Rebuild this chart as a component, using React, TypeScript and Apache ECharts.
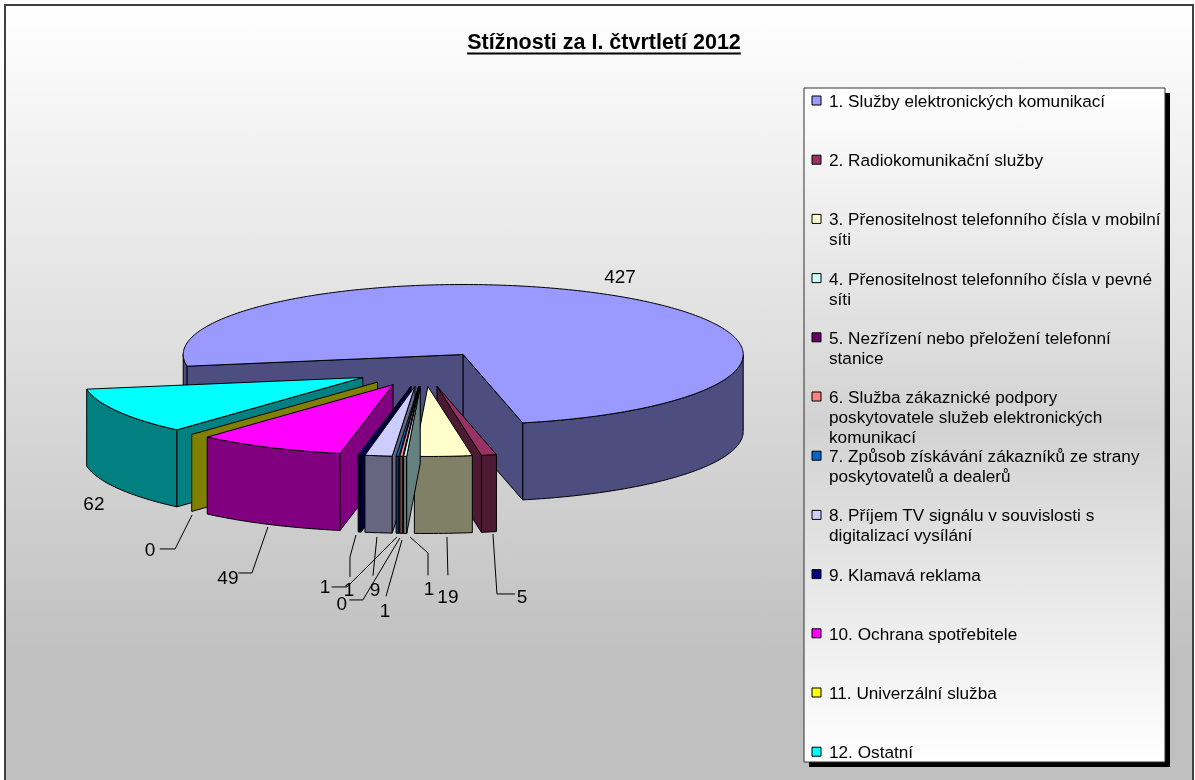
import React, { useEffect, useRef } from "react";
import * as echarts from "echarts";

// ---------- data ----------
const chartTitle = "Stížnosti za I. čtvrtletí 2012";
const categories = [
  "1. Služby elektronických komunikací",
  "2. Radiokomunikační služby",
  "3. Přenositelnost telefonního čísla v mobilní síti",
  "4. Přenositelnost telefonního čísla v pevné síti",
  "5. Nezřízení nebo přeložení telefonní stanice",
  "6. Služba zákaznické podpory poskytovatele služeb elektronických komunikací",
  "7. Způsob získávání zákazníků ze strany poskytovatelů a dealerů",
  "8. Příjem TV signálu v souvislosti s digitalizací vysílání",
  "9. Klamavá reklama",
  "10. Ochrana spotřebitele",
  "11. Univerzální služba",
  "12. Ostatní",
];
const complaints = [427, 5, 19, 1, 0, 1, 1, 9, 1, 49, 0, 62];
const sliceColors = [
  "#9999FF", "#993366", "#FFFFCC", "#CCFFFF", "#660066", "#FF8080",
  "#0066CC", "#CCCCFF", "#000080", "#FF00FF", "#FFFF00", "#00FFFF",
];

// ---------- layout (not data) ----------
const GEO = { cx: 424, cy: 369, rx: 280, ry: 70, depth: 77, explode: 0.25, startAngle: 170.4 };
// word indices after which a legend entry wraps
const legendWraps: number[][] = [[], [], [6], [6], [5], [4, 7], [6], [7], [], [], [], []];
// label text offset + leader points, relative to slice's front-bottom rim point (slice 1: top rim)
const labelLayout: { dx: number; dy: number; line: number[][] }[] = [
  { dx: 0, dy: -20, line: [] },
  { dx: 33, dy: 65, line: [[4, 2], [8, 62], [26, 62]] },
  { dx: 4.5, dy: 63.6, line: [[3.5, 3.6], [4.5, 42]] },
  { dx: 23.8, dy: 55.6, line: [[4.8, 3.6], [22.8, 19.6], [22.8, 42]] },
  { dx: -61.4, dy: 70.6, line: [[-3.4, 4.6], [-40.4, 66.6], [-54, 66.6]] },
  { dx: -16.4, dy: 76.7, line: [[0.6, 6.7], [-15.4, 63]] },
  { dx: -72.6, dy: 53.7, line: [[-0.6, 3.7], [-50.6, 53.7], [-66, 53.7]] },
  { dx: -3.6, dy: 57.2, line: [[-1.6, 4.2], [-5.6, 43]] },
  { dx: -10.7, dy: 57, line: [[-3.7, 3], [-9.7, 25], [-9.7, 45]] },
  { dx: -41.3, dy: 53.5, line: [[-1.3, 2.5], [-17.3, 48.5], [-31, 48.5]] },
  { dx: -41.6, dy: 38.5, line: [[0.4, 3.5], [-16.6, 37.5], [-32, 37.5]] },
  { dx: -24, dy: 14.6, line: [] },
];

const FONT = "Arial, 'Liberation Sans', sans-serif";
const rad = (d: number) => (d * Math.PI) / 180;

function shade(hex: string, f = 0.5) {
  const n = parseInt(hex.slice(1), 16);
  const r = Math.round(((n >> 16) & 255) * f);
  const g = Math.round(((n >> 8) & 255) * f);
  const b = Math.round((n & 255) * f);
  return `rgb(${r},${g},${b})`;
}

function wrapName(name: string, breaks: number[]) {
  const words = name.split(" ");
  return words.map((w, k) => (k === 0 ? w : (breaks.includes(k) ? "\n" : " ") + w)).join("");
}

const total = complaints.reduce((a, b) => a + b, 0);
const spans: number[][] = [];
{
  let acc = GEO.startAngle;
  complaints.forEach((v) => {
    const s = acc;
    acc += (v / total) * 360;
    spans.push([s, acc]);
  });
}
const drawOrder = complaints
  .map((_, i) => i)
  .sort((a, b) => Math.sin(rad((spans[a][0] + spans[a][1]) / 2)) - Math.sin(rad((spans[b][0] + spans[b][1]) / 2)));

function sliceCenter(m: number) {
  return [GEO.cx + GEO.explode * GEO.rx * Math.cos(rad(m)), GEO.cy + GEO.explode * GEO.ry * Math.sin(rad(m))];
}
function rim(c: number[], ang: number, dy = 0) {
  return [c[0] + GEO.rx * Math.cos(rad(ang)), c[1] + GEO.ry * Math.sin(rad(ang)) + dy];
}
function arc(c: number[], a0: number, a1: number, dy = 0) {
  const n = Math.max(1, Math.ceil(Math.abs(a1 - a0)));
  const pts: number[][] = [];
  for (let k = 0; k <= n; k++) pts.push(rim(c, a0 + ((a1 - a0) * k) / n, dy));
  return pts;
}

function renderItem(params: any, api: any) {
  const i = params.dataIndex;
  const value = api.value(1);
  const [s, e] = spans[i];
  const m = (s + e) / 2;
  const c = sliceCenter(m);
  const rank = drawOrder.indexOf(i);
  const base = rank * 10;
  const top = sliceColors[i];
  const side = shade(top);
  const sty = (fill: string) => ({ fill, stroke: "#000", lineWidth: 1, lineJoin: "round" });
  const children: any[] = [];
  const D = GEO.depth;

  for (let k = -1; k <= 2; k++) {
    const lo = Math.max(s, k * 360);
    const hi = Math.min(e, k * 360 + 180);
    if (hi - lo > 0.01) {
      const pts = [...arc(c, lo, hi, 0), ...arc(c, lo, hi, D).reverse()];
      children.push({ type: "polygon", shape: { points: pts }, style: sty(side), z2: base + 1 });
    }
  }
  const radial = (ang: number) => ({
    type: "polygon",
    shape: { points: [c, rim(c, ang, 0), rim(c, ang, D), [c[0], c[1] + D]] },
    style: sty(side),
    z2: base + 2,
  });
  if (Math.cos(rad(s)) < 0) children.push(radial(s));
  if (Math.cos(rad(e)) > 0) children.push(radial(e));
  if (e - s > 0.01) {
    children.push({
      type: "polygon",
      shape: { points: [c, ...arc(c, s, e, 0)] },
      style: sty(top),
      z2: base + 3,
    });
  }

  const L = labelLayout[i];
  const anchor = i === 0 ? rim(c, m, 0) : rim(c, m, D);
  if (L.line.length) {
    children.push({
      type: "polyline",
      shape: { points: L.line.map((p) => [anchor[0] + p[0], anchor[1] + p[1]]) },
      style: { stroke: "#000", lineWidth: 1, fill: null },
      z2: 1000,
    });
  }
  children.push({
    type: "text",
    style: {
      text: String(value),
      x: anchor[0] + L.dx,
      y: anchor[1] + L.dy,
      align: "center",
      verticalAlign: "middle",
      font: `19px ${FONT}`,
      fill: "#000",
    },
    z2: 1001,
  });
  return { type: "group", children };
}

export default function App() {
  const ref = useRef<HTMLDivElement>(null);
  useEffect(() => {
    if (!ref.current) return;
    const chart = echarts.init(ref.current, undefined, { renderer: "svg" });

    const titleFont = `bold 21.5px ${FONT}`;
    let titleW = 272;
    try {
      const ctx = document.createElement("canvas").getContext("2d");
      if (ctx) {
        ctx.font = titleFont;
        titleW = ctx.measureText(chartTitle).width;
      }
    } catch (err) {}
    const titleX = 604;
    const titleY = 42;

    const legendX = 804, legendY = 88, legendW = 361, legendH = 674;
    const itemTop = 101, itemStep = 59.2;

    const elements: any[] = [
      {
        type: "rect",
        shape: { x: 5, y: 5, width: 1188, height: 800 },
        style: {
          fill: new echarts.graphic.LinearGradient(0, 0, 0, 1, [
            { offset: 0, color: "#ffffff" },
            { offset: 0.82, color: "#c0c0c0" },
            { offset: 1, color: "#c0c0c0" },
          ]),
          stroke: "#404040",
          lineWidth: 2,
        },
        z: -10,
        silent: true,
      },
      {
        type: "text",
        style: { text: chartTitle, x: titleX, y: titleY, align: "center", verticalAlign: "middle", font: titleFont, fill: "#000" },
        z: 5,
      },
      {
        type: "line",
        shape: { x1: titleX - titleW / 2, y1: titleY + 11.5, x2: titleX + titleW / 2, y2: titleY + 11.5 },
        style: { stroke: "#000", lineWidth: 2 },
        z: 5,
      },
      {
        type: "rect",
        shape: { x: legendX + 5, y: legendY + 5, width: legendW, height: legendH },
        style: { fill: "#000" },
        z: 5,
      },
      {
        type: "rect",
        shape: { x: legendX, y: legendY, width: legendW, height: legendH },
        style: {
          fill: new echarts.graphic.LinearGradient(0, 0, 0, 1, [
            { offset: 0, color: "#ffffff" },
            { offset: 0.5, color: "#d2d2d2" },
            { offset: 1, color: "#ffffff" },
          ]),
          stroke: "#303030",
          lineWidth: 1,
        },
        z: 6,
      },
    ];
    categories.forEach((name, i) => {
      const y = itemTop + itemStep * i;
      elements.push({
        type: "rect",
        shape: { x: 812, y: y - 5, width: 9, height: 9 },
        style: { fill: sliceColors[i], stroke: "#000", lineWidth: 1 },
        z: 7,
      });
      elements.push({
        type: "text",
        style: {
          text: wrapName(name, legendWraps[i]),
          x: 829,
          y: y - 10,
          lineHeight: 20,
          align: "left",
          verticalAlign: "top",
          font: `17.2px ${FONT}`,
          fill: "#000",
        },
        z: 7,
      });
    });

    chart.setOption({
      animation: false,
      graphic: { elements },
      series: [
        {
          type: "custom",
          name: chartTitle,
          coordinateSystem: "none",
          silent: true,
          renderItem,
          data: complaints.map((v, i) => [i, v]),
          z: 2,
        },
      ],
    });
    return () => chart.dispose();
  }, []);
  return <div ref={ref} style={{ position: "fixed", left: 0, top: 0, width: 1195, height: 780 }} />;
}
